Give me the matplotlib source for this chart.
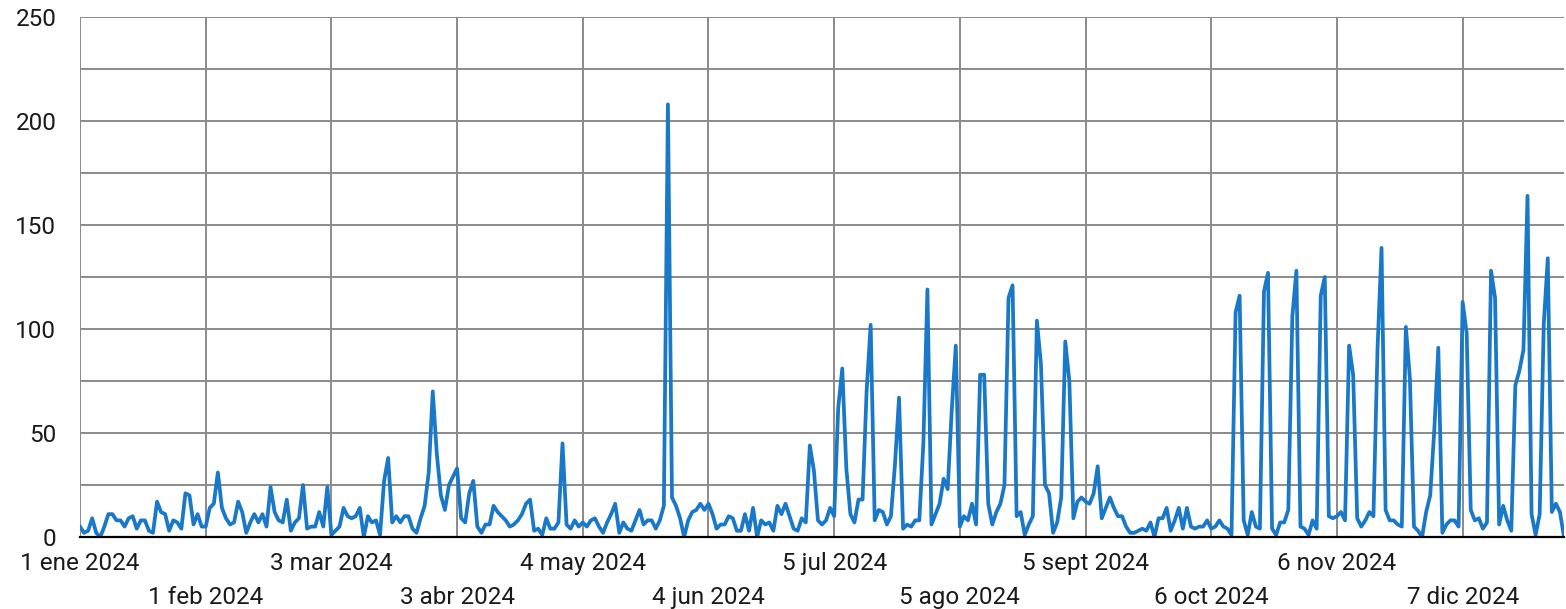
import matplotlib
matplotlib.use("Agg")
import matplotlib.pyplot as plt
import pandas as pd

# daily values, 1 Jan 2024 .. 1 Jan 2025
jan = [5, 2, 3, 9, 2, 0, 5, 11, 11, 8, 8, 5, 9, 10, 4, 8, 8, 3, 2, 17, 12, 11, 3, 8, 7, 4, 21, 20, 6, 11, 5]
feb = [5, 14, 16, 31, 14, 9, 6, 7, 17, 12, 2, 7, 11, 7, 11, 5, 24, 12, 8, 7, 18, 3, 7, 9, 25, 4, 5, 5, 12]
mar = [5, 24, 1, 3, 5, 14, 10, 9, 10, 14, 0, 10, 7, 8, 1, 27, 38, 7, 10, 7, 10, 10, 4, 2, 9, 15, 31, 70, 40, 20, 13]
apr = [25, 29, 33, 9, 7, 21, 27, 5, 2, 6, 6, 15, 12, 10, 8, 5, 6, 8, 11, 16, 18, 3, 4, 1, 9, 4, 4, 7, 45, 6]
may = [4, 8, 5, 7, 5, 8, 9, 5, 2, 7, 11, 16, 2, 7, 4, 3, 8, 13, 6, 8, 8, 4, 8, 15, 208, 19, 15, 9, 0, 8, 12]
jun = [13, 16, 13, 16, 11, 4, 6, 6, 10, 9, 3, 3, 11, 3, 14, 0, 8, 6, 7, 3, 15, 11, 16, 10, 4, 3, 9, 7, 44, 32]
jul = [8, 6, 8, 14, 10, 62, 81, 33, 11, 7, 18, 18, 70, 102, 8, 13, 12, 6, 10, 35, 67, 4, 6, 5, 8, 8, 45, 119, 6, 11, 16]
aug = [28, 23, 61, 92, 5, 10, 8, 16, 6, 78, 78, 16, 6, 12, 16, 25, 115, 121, 10, 12, 1, 6, 10, 104, 83, 25, 21, 2, 7, 19, 94]
sep = [75, 9, 17, 19, 17, 16, 21, 34, 9, 14, 19, 14, 10, 10, 5, 2, 2, 3, 4, 3, 7, 0, 9, 9, 14, 3, 8, 14, 4, 14]
oct_ = [5, 4, 5, 5, 8, 4, 5, 8, 5, 4, 1, 108, 116, 8, 1, 12, 5, 4, 118, 127, 4, 1, 7, 7, 13, 106, 128, 5, 4, 1, 8]
nov = [4, 116, 125, 10, 9, 10, 12, 8, 92, 78, 9, 5, 8, 12, 10, 90, 139, 13, 8, 8, 6, 5, 101, 76, 5, 3, 0, 12, 20, 51]
dec = [91, 2, 6, 8, 8, 5, 113, 98, 13, 8, 9, 4, 7, 128, 115, 6, 15, 8, 3, 73, 80, 90, 164, 11, 1, 11, 102, 134, 12, 16, 12, 0]

values = jan + feb + mar + apr + may + jun + jul + aug + sep + oct_ + nov + dec
dates = pd.date_range("2024-01-01", periods=len(values), freq="D")

tick_dates = pd.to_datetime(["2024-01-01", "2024-02-01", "2024-03-03", "2024-04-03",
                             "2024-05-04", "2024-06-04", "2024-07-05", "2024-08-05",
                             "2024-09-05", "2024-10-06", "2024-11-06", "2024-12-07"])
tick_labels = ["1 ene 2024", "1 feb 2024", "3 mar 2024", "3 abr 2024", "4 may 2024", "4 jun 2024",
               "5 jul 2024", "5 ago 2024", "5 sept 2024", "6 oct 2024", "6 nov 2024", "7 dic 2024"]

plt.rcParams["font.family"] = ["Roboto", "DejaVu Sans"]

W, H = 1566, 609
fig = plt.figure(figsize=(W / 100, H / 100), dpi=100)
ax = fig.add_axes([80 / W, (H - 537) / H, (1564 - 80) / W, (537 - 17) / H])

ax.plot(dates, values, color="#1a78c9", lw=2.7, zorder=3)

ax.set_xlim(dates[0], dates[-1])
ax.set_ylim(0, 250)

ax.set_yticks(range(0, 251, 50))
ax.set_yticks(range(25, 250, 50), minor=True)
ax.set_xticks(tick_dates[::2])
ax.set_xticklabels(tick_labels[::2])
ax.set_xticks(tick_dates[1::2], minor=True)
ax.set_xticklabels(tick_labels[1::2], minor=True)

ax.tick_params(axis="x", which="major", length=0, pad=11, labelsize=17.5, labelcolor="#1a1a1a")
ax.tick_params(axis="x", which="minor", length=0, pad=35, labelsize=17.5, labelcolor="#1a1a1a")
ax.tick_params(axis="y", which="both", length=0, pad=17, labelsize=17.5, labelcolor="#1a1a1a")

ax.grid(True, which="both", color="#8a8a8a", lw=1.4)
ax.set_axisbelow(True)
for s in ["top", "right", "left"]:
    ax.spines[s].set_visible(False)
ax.spines["bottom"].set_color("black")
ax.spines["bottom"].set_linewidth(1.6)
ax.spines["bottom"].set_zorder(4)

fig.savefig("out.png", dpi=100)
